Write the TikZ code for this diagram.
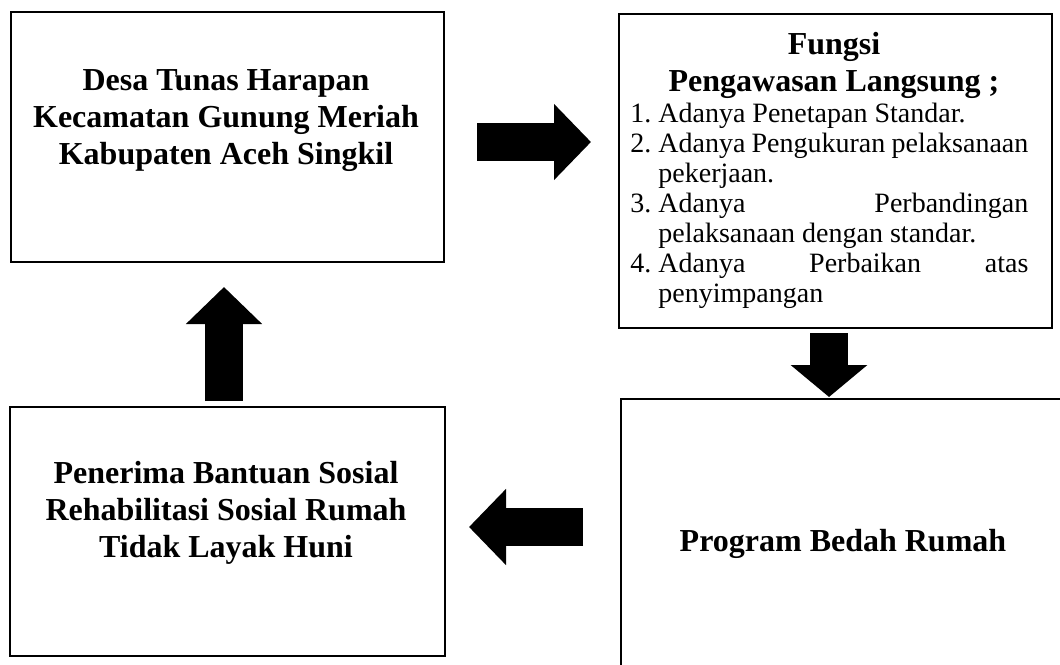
\documentclass[tikz,border=0pt]{standalone}
\usepackage{fontspec}
\setmainfont{Liberation Serif}
\usetikzlibrary{arrows.meta,positioning}

% one numbered point of the list, hanging indent
\newcommand{\fitem}[2]{\par\hangindent=14pt\hangafter=1\noindent\makebox[14pt][l]{#1}#2\par}

\begin{document}
\begin{tikzpicture}[x=0.5pt, y=-0.5pt,
  box/.style={draw, line width=1.2pt, inner sep=0pt, anchor=north west},
  title/.style={align=center, inner sep=0pt, font=\fontsize{16}{18.5}\selectfont\bfseries},
  blockarrow/.style={line width=19pt, -{Triangle[length=18.5pt, width=37pt]}}]
  \useasboundingbox (0,0) rectangle (1060,664);
  \clip (0,0) rectangle (1060,664);
  % boxes
  \node[box, minimum width=216.5pt, minimum height=125pt] (desa) at (10,11) {};
  \node[box, minimum width=216.5pt, minimum height=157pt] (fungsi) at (618,13) {};
  \node[box, minimum width=230pt, minimum height=150pt] (program) at (620,398) {};
  \node[box, minimum width=217.5pt, minimum height=124.5pt] (penerima) at (9,406) {};
  % texts
  \node[title] (desatext) at (226,121) {Desa Tunas Harapan\\Kecamatan Gunung Meriah\\Kabupaten Aceh Singkil};
  \node[title] (fungsititle) at (834,65) {Fungsi\\Pengawasan Langsung ;};
  \node[text width=199pt, align=justify, anchor=north west, inner sep=0pt,
    font=\fontsize{14}{15}\selectfont] (fungsilist) at (630,92) {\hyphenpenalty10000
    \fitem{1.}{Adanya Penetapan Standar.}%
    \fitem{2.}{Adanya Pengukuran pelaksanaan\linebreak pekerjaan.}%
    \fitem{3.}{Adanya Perbandingan\linebreak pelaksanaan dengan standar.}%
    \fitem{4.}{Adanya Perbaikan atas\linebreak penyimpangan}};
  \node[title] (programtext) at (843,544) {Program Bedah Rumah};
  \node[title] (penerimatext) at (226,513) {Penerima Bantuan Sosial\\Rehabilitasi Sosial Rumah\\Tidak Layak Huni};
  % arrows
  \coordinate (r0) at (477,142);
  \coordinate (r1) at (591,142);
  \coordinate (d0) at (829,333);
  \coordinate (d1) at (829,397);
  \coordinate (l0) at (583,527);
  \coordinate (l1) at (469,527);
  \coordinate (u0) at (224,401);
  \coordinate (u1) at (224,287);
  \draw[blockarrow] (r0) -- (r1);
  \draw[blockarrow, -{Triangle[length=16pt, width=37.5pt]}] (d0) -- (d1);
  \draw[blockarrow] (l0) -- (l1);
  \draw[blockarrow] (u0) -- (u1);
\end{tikzpicture}
\end{document}
